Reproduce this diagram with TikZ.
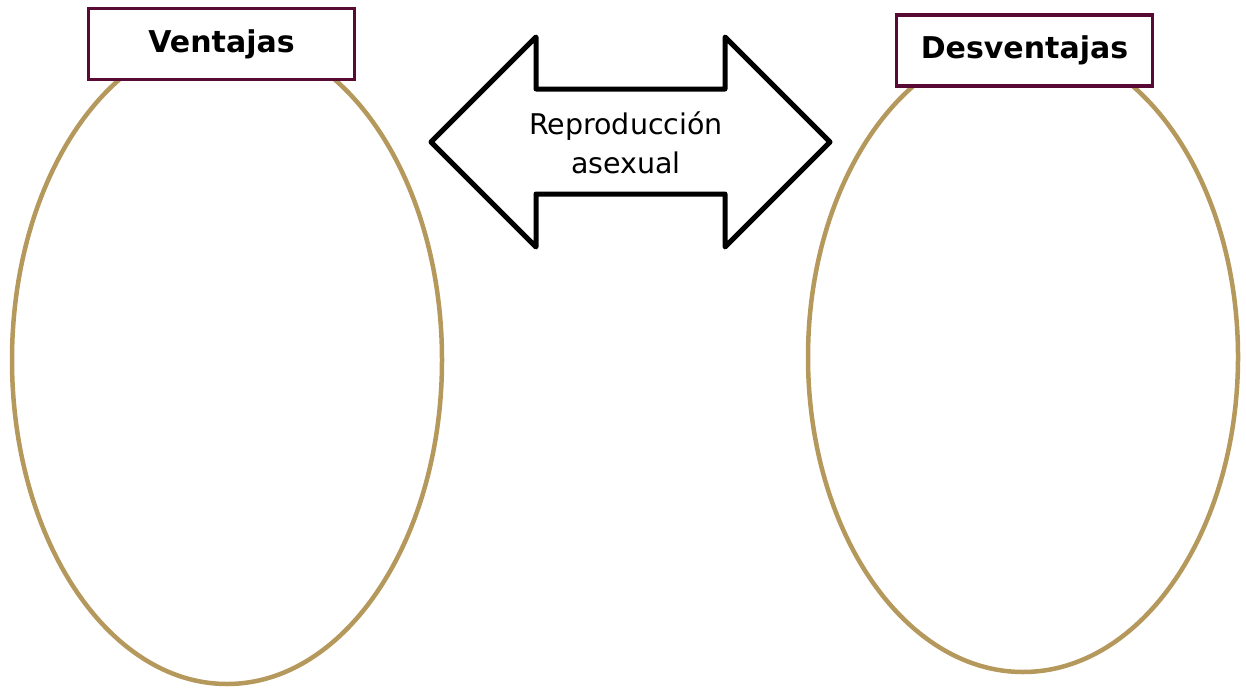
\documentclass[tikz,border=0pt]{standalone}
\usepackage{fontspec}
\setmainfont{DejaVu Sans}
\usepackage{tikz}
\usetikzlibrary{shapes, positioning}
\usepackage{xcolor}
\definecolor{tan}{RGB}{181,152,91}
\definecolor{maroon}{RGB}{88,10,52}

\begin{document}
\begin{tikzpicture}[
    x=1pt, y=-1pt,
    oval/.style={
        ellipse, draw=tan, line width=4.5pt, minimum width=430pt, inner sep=0pt
    },
    titlebox/.style={
        rectangle, draw=maroon, fill=white, line width=3.5pt, minimum height=71pt,
        font=\bfseries\fontsize{30}{35}\selectfont
    },
    bigarrow/.style={
        draw=black, fill=white, line width=5pt, line join=round
    }
]
    \useasboundingbox (0,0) rectangle (1246,688);

    % --- Ovals ---
    \node [oval, minimum height=648pt] (pros) at (227,360) {};
    \node [oval, minimum height=630pt] (cons) at (1023,357) {};

    % --- Titles ---
    \node [titlebox, minimum width=266pt] (ventajas) at (221.5,44) {Ventajas};
    \node [titlebox, minimum width=256pt] (desventajas) at (1024.5,50.5) {Desventajas};

    % --- Double arrow ---
    \path [bigarrow] (431,142) -- (536,37) -- (536,89) -- (725,89) -- (725,37)
        -- (830,142) -- (725,247) -- (725,194) -- (536,194) -- (536,247) -- cycle;
    \node [align=center, font=\fontsize{28.5}{39}\selectfont] (repro) at (626,143) {Reproducción\\asexual};

\end{tikzpicture}
\end{document}
